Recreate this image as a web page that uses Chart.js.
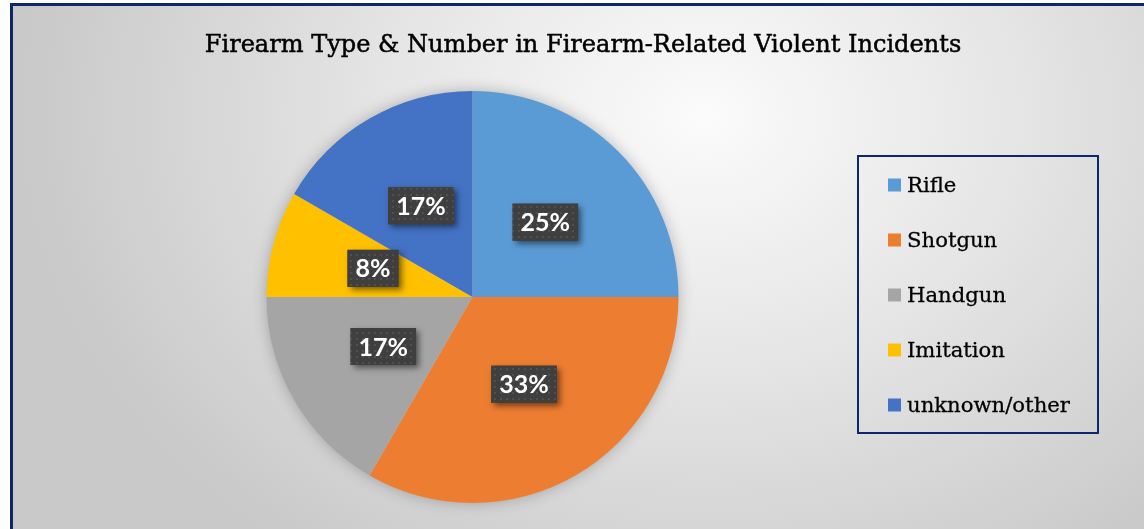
<!DOCTYPE html>
<html>
<head>
<meta charset="utf-8">
<script src="https://cdn.jsdelivr.net/npm/chart.js@4.4.0/dist/chart.umd.min.js"></script>
<style>
  html, body { margin: 0; padding: 0; background: #ffffff; width: 1144px; height: 529px; overflow: hidden; }
  #frame {
    position: absolute; left: 10px; top: 3px; width: 1200px; height: 600px;
    border: 3px solid #0d276b; box-sizing: border-box;
    background: radial-gradient(ellipse 680px 540px at 690px 110px, #fbfbfb 0%, #e6e6e6 45%, #c9c9c9 100%);
  }
  #wrap { position: absolute; left: 0; top: 0; width: 1144px; height: 529px; }
</style>
</head>
<body>
<div id="frame"></div>
<div id="wrap"><canvas id="c" width="1144" height="529"></canvas></div>
<script>
const titleText = "Firearm Type & Number in Firearm-Related Violent Incidents";
const categories = ["Rifle", "Shotgun", "Handgun", "Imitation", "unknown/other"];
const counts = [3, 4, 2, 1, 2];
const sliceColors = ["#5B9BD5", "#ED7D31", "#A5A5A5", "#FFC000", "#4472C4"];

function makePattern() {
  const p = document.createElement('canvas');
  p.width = 6; p.height = 6;
  const g = p.getContext('2d');
  g.fillStyle = '#3f3f3f'; g.fillRect(0, 0, 6, 6);
  g.fillStyle = '#505050'; g.fillRect(2, 2, 2, 2);
  return g.createPattern(p, 'repeat');
}

const shadowPlugin = {
  id: 'pieShadow',
  beforeDatasetsDraw(chart) {
    const meta = chart.getDatasetMeta(0);
    const a = meta.data[0];
    if (!a) return;
    const ctx = chart.ctx;
    ctx.save();
    ctx.shadowColor = 'rgba(0,0,0,0.28)';
    ctx.shadowBlur = 16;
    ctx.fillStyle = '#cccccc';
    ctx.beginPath();
    ctx.arc(a.x, a.y, a.outerRadius - 1, 0, Math.PI * 2);
    ctx.fill();
    ctx.restore();
  }
};

const labelPlugin = {
  id: 'pctLabels',
  afterDatasetsDraw(chart) {
    const ctx = chart.ctx;
    const ds = chart.data.datasets[0].data;
    const total = ds.reduce((s, v) => s + v, 0);
    const meta = chart.getDatasetMeta(0);
    const pat = makePattern();
    ctx.save();
    ctx.font = 'bold 25px Lato, "Open Sans", sans-serif';
    meta.data.forEach((arc, i) => {
      const pos = arc.tooltipPosition();
      const txt = Math.round(ds[i] / total * 100) + '%';
      const w = ctx.measureText(txt).width + 16;
      const h = 37;
      const x = pos.x - w / 2, y = pos.y - h / 2 - 2;
      ctx.save();
      ctx.shadowColor = 'rgba(0,0,0,0.5)';
      ctx.shadowBlur = 6; ctx.shadowOffsetX = 3; ctx.shadowOffsetY = 3;
      ctx.fillStyle = '#3f3f3f';
      ctx.fillRect(x, y, w, h);
      ctx.restore();
      ctx.fillStyle = pat;
      ctx.fillRect(x, y, w, h);
      ctx.fillStyle = '#ffffff';
      ctx.textAlign = 'center'; ctx.textBaseline = 'middle';
      ctx.fillText(txt, pos.x, y + h / 2 + 1);
    });
    ctx.restore();
  }
};

function fitFont(ctx, text, target, base, fam) {
  ctx.font = base + 'px ' + fam;
  const w = ctx.measureText(text).width;
  const fs = base * target / w;
  ctx.font = fs.toFixed(2) + 'px ' + fam;
}

const titleLegendPlugin = {
  id: 'titleLegend',
  afterDraw(chart) {
    const ctx = chart.ctx;
    const fam = '"DejaVu Serif", "Liberation Serif", serif';
    ctx.save();
    ctx.fillStyle = '#000000';
    ctx.strokeStyle = '#000000';
    ctx.lineWidth = 0.5;
    fitFont(ctx, titleText, 757, 24, fam);
    ctx.textAlign = 'center'; ctx.textBaseline = 'alphabetic';
    ctx.fillText(titleText, 583, 52);
    ctx.strokeText(titleText, 583, 52);

    // legend box
    const lx = 858, ly = 156, lw = 240, lh = 277;
    ctx.strokeStyle = '#0d276b'; ctx.lineWidth = 2;
    ctx.strokeRect(lx, ly, lw, lh);
    const labels = chart.data.labels;
    const cols = chart.data.datasets[0].backgroundColor;
    fitFont(ctx, labels[labels.length - 1], 163, 20, fam);
    ctx.textAlign = 'left'; ctx.textBaseline = 'middle';
    ctx.lineWidth = 0.3; ctx.strokeStyle = '#000000';
    labels.forEach((lab, i) => {
      const cy = 185 + i * 55;
      ctx.fillStyle = cols[i];
      ctx.fillRect(888, cy - 6.5, 13, 13);
      ctx.fillStyle = '#000000';
      ctx.fillText(lab, 907, cy + 1);
      ctx.strokeText(lab, 907, cy + 1);
    });
    ctx.restore();
  }
};

new Chart(document.getElementById('c'), {
  type: 'pie',
  data: {
    labels: categories,
    datasets: [{
      data: counts,
      backgroundColor: sliceColors,
      borderWidth: 0,
      hoverOffset: 0
    }]
  },
  options: {
    responsive: false,
    animation: false,
    rotation: 0,
    layout: { padding: { left: 266, right: 465, top: 91, bottom: 26 } },
    plugins: { legend: { display: false }, title: { display: false }, tooltip: { enabled: false } },
    events: []
  },
  plugins: [shadowPlugin, labelPlugin, titleLegendPlugin]
});
</script>
</body>
</html>
